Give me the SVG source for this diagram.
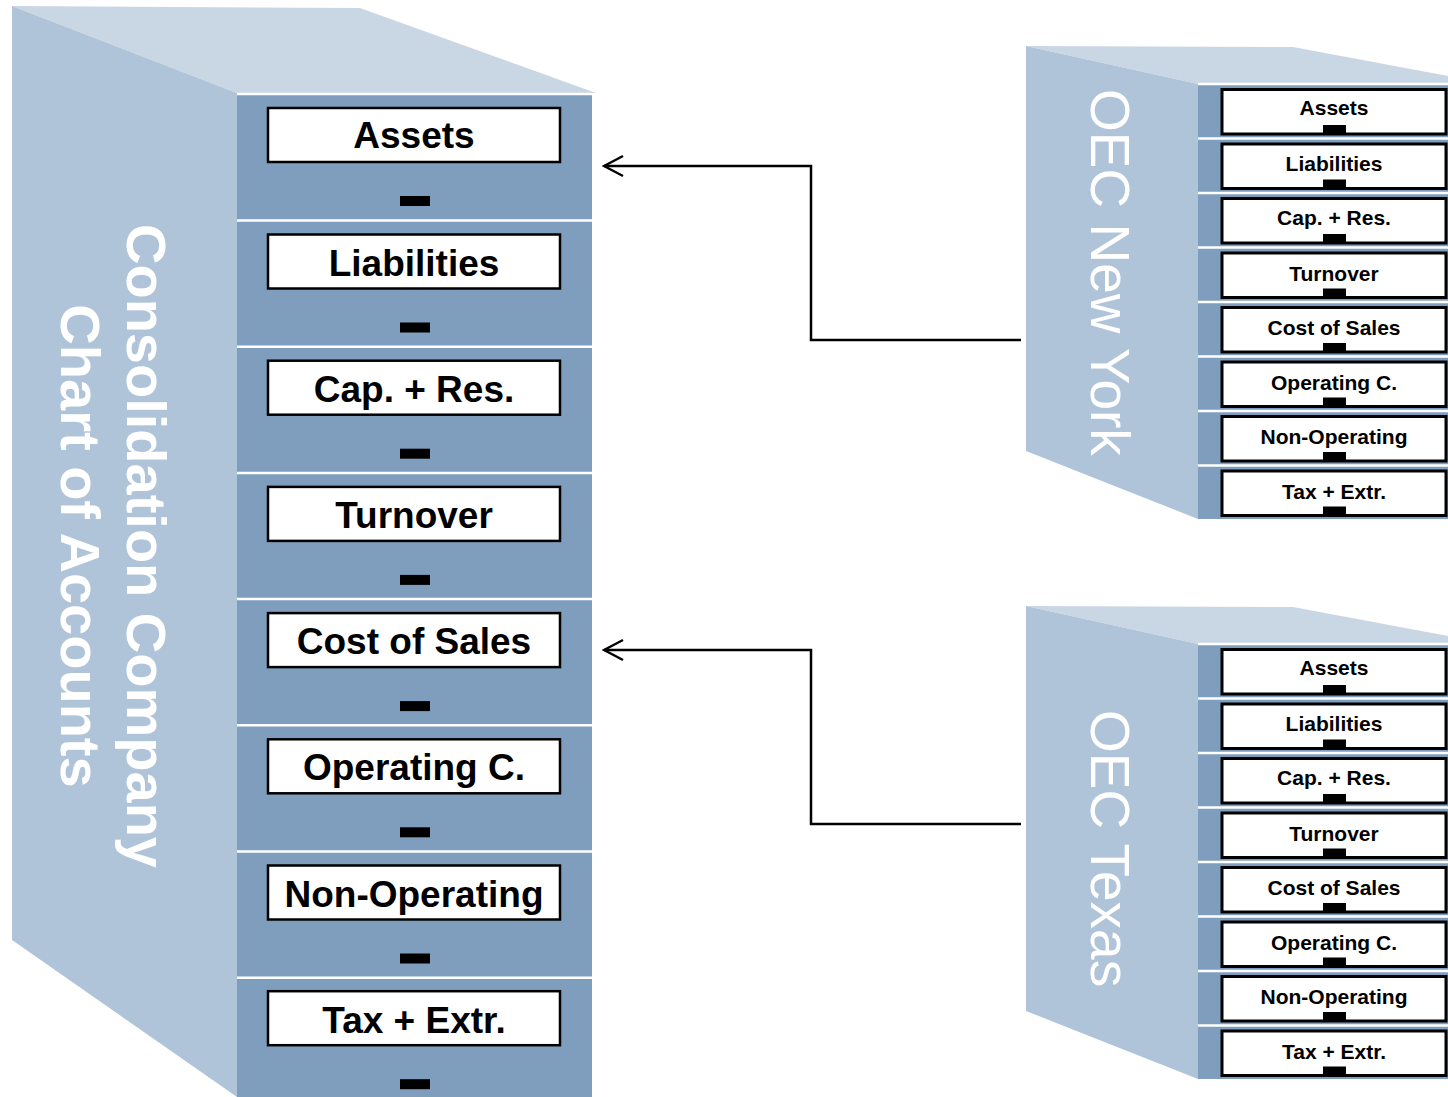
<svg xmlns="http://www.w3.org/2000/svg" width="1448" height="1097" viewBox="0 0 1448 1097">
  <defs>
    <style>
      .side { fill: #B0C4D9; }
      .top { fill: #C9D6E4; }
      .front { fill: #7F9EBD; }
      .sep { stroke: #FFFFFF; stroke-width: 2.5; }
      .box { fill: #FFFFFF; stroke: #000000; stroke-width: 2.5; }
      .sbox { fill: #FFFFFF; stroke: #000000; stroke-width: 3; }
      .handle { fill: #000000; }
      .lbl { font-family: "Liberation Sans", Arial, sans-serif; font-weight: bold; font-size: 37px; fill: #000000; text-anchor: middle; }
      .slbl { font-family: "Liberation Sans", Arial, sans-serif; font-weight: bold; font-size: 21px; fill: #000000; text-anchor: middle; }
      .title { font-family: "Liberation Sans", Arial, sans-serif; font-weight: bold; font-size: 56px; fill: #FFFFFF; text-anchor: middle; }
      .stitle { font-family: "Liberation Sans", Arial, sans-serif; font-size: 55px; fill: #FFFFFF; }
      .wire { fill: none; stroke: #000000; stroke-width: 2.5; }
    </style>
    <marker id="open" viewBox="0 0 24 24" markerWidth="24" markerHeight="24" refX="22" refY="12" orient="auto" markerUnits="userSpaceOnUse">
      <path d="M3,2 L22,12 L3,22" fill="none" stroke="#000000" stroke-width="2.5"/>
    </marker>
  </defs>

  <!-- Consolidation cabinet -->
  <g id="consolidation">
    <polygon class="top" points="12,6 360,8 596,93 237,93"/>
    <polygon class="side" points="12,6 237,93 237,1097 12,940"/>
    <rect class="front" x="237" y="93" width="355" height="1004"/>
    <text class="title" transform="translate(127,546) rotate(90)">Consolidation Company</text>
    <text class="title" transform="translate(61,546) rotate(90)">Chart of Accounts</text>

    <g transform="translate(0,94)">
      <line class="sep" x1="237" y1="0" x2="592" y2="0"/>
      <rect class="box" x="268" y="14" width="292" height="54"/>
      <text class="lbl" x="414" y="54">Assets</text>
      <rect class="handle" x="400" y="102" width="30" height="10"/>
    </g>
    <g transform="translate(0,220.5)">
      <line class="sep" x1="237" y1="0" x2="592" y2="0"/>
      <rect class="box" x="268" y="14" width="292" height="54"/>
      <text class="lbl" x="414" y="55">Liabilities</text>
      <rect class="handle" x="400" y="102" width="30" height="10"/>
    </g>
    <g transform="translate(0,346.7)">
      <line class="sep" x1="237" y1="0" x2="592" y2="0"/>
      <rect class="box" x="268" y="14" width="292" height="54"/>
      <text class="lbl" x="414" y="55">Cap. + Res.</text>
      <rect class="handle" x="400" y="102" width="30" height="10"/>
    </g>
    <g transform="translate(0,472.9)">
      <line class="sep" x1="237" y1="0" x2="592" y2="0"/>
      <rect class="box" x="268" y="14" width="292" height="54"/>
      <text class="lbl" x="414" y="55">Turnover</text>
      <rect class="handle" x="400" y="102" width="30" height="10"/>
    </g>
    <g transform="translate(0,599.1)">
      <line class="sep" x1="237" y1="0" x2="592" y2="0"/>
      <rect class="box" x="268" y="14" width="292" height="54"/>
      <text class="lbl" x="414" y="55">Cost of Sales</text>
      <rect class="handle" x="400" y="102" width="30" height="10"/>
    </g>
    <g transform="translate(0,725.3)">
      <line class="sep" x1="237" y1="0" x2="592" y2="0"/>
      <rect class="box" x="268" y="14" width="292" height="54"/>
      <text class="lbl" x="414" y="55">Operating C.</text>
      <rect class="handle" x="400" y="102" width="30" height="10"/>
    </g>
    <g transform="translate(0,851.5)">
      <line class="sep" x1="237" y1="0" x2="592" y2="0"/>
      <rect class="box" x="268" y="14" width="292" height="54"/>
      <text class="lbl" x="414" y="55">Non-Operating</text>
      <rect class="handle" x="400" y="102" width="30" height="10"/>
    </g>
    <g transform="translate(0,977.7)">
      <line class="sep" x1="237" y1="0" x2="592" y2="0"/>
      <rect class="box" x="268" y="13.5" width="292" height="54"/>
      <text class="lbl" x="414" y="55">Tax + Extr.</text>
      <rect class="handle" x="400" y="101.5" width="30" height="10"/>
    </g>
  </g>

  <!-- OEC New York cabinet -->
  <g id="oec-new-york">
    <polygon class="top" points="1026,46 1293,47 1448,76 1448,84 1198,84"/>
    <polygon class="side" points="1026,46 1198,84 1198,519 1026,451"/>
    <rect class="front" x="1198" y="84" width="250" height="435"/>
    <text class="stitle" transform="translate(1091,89) rotate(90)">OEC New York</text>

    <g transform="translate(0,84)">
      <line class="sep" x1="1198" y1="0" x2="1448" y2="0"/>
      <rect class="sbox" x="1222" y="5.5" width="224" height="44.5"/>
      <text class="slbl" x="1334" y="31">Assets</text>
      <rect class="handle" x="1323" y="41" width="23" height="10"/>
    </g>
    <g transform="translate(0,138.5)">
      <line class="sep" x1="1198" y1="0" x2="1448" y2="0"/>
      <rect class="sbox" x="1222" y="5.5" width="224" height="44.5"/>
      <text class="slbl" x="1334" y="32">Liabilities</text>
      <rect class="handle" x="1323" y="41" width="23" height="10"/>
    </g>
    <g transform="translate(0,193)">
      <line class="sep" x1="1198" y1="0" x2="1448" y2="0"/>
      <rect class="sbox" x="1222" y="5.5" width="224" height="44.5"/>
      <text class="slbl" x="1334" y="32">Cap. + Res.</text>
      <rect class="handle" x="1323" y="41" width="23" height="10"/>
    </g>
    <g transform="translate(0,247.5)">
      <line class="sep" x1="1198" y1="0" x2="1448" y2="0"/>
      <rect class="sbox" x="1222" y="5.5" width="224" height="44.5"/>
      <text class="slbl" x="1334" y="33">Turnover</text>
      <rect class="handle" x="1323" y="41" width="23" height="10"/>
    </g>
    <g transform="translate(0,302)">
      <line class="sep" x1="1198" y1="0" x2="1448" y2="0"/>
      <rect class="sbox" x="1222" y="5.5" width="224" height="44.5"/>
      <text class="slbl" x="1334" y="33">Cost of Sales</text>
      <rect class="handle" x="1323" y="41" width="23" height="10"/>
    </g>
    <g transform="translate(0,356.5)">
      <line class="sep" x1="1198" y1="0" x2="1448" y2="0"/>
      <rect class="sbox" x="1222" y="5.5" width="224" height="44.5"/>
      <text class="slbl" x="1334" y="33">Operating C.</text>
      <rect class="handle" x="1323" y="41" width="23" height="10"/>
    </g>
    <g transform="translate(0,411)">
      <line class="sep" x1="1198" y1="0" x2="1448" y2="0"/>
      <rect class="sbox" x="1222" y="5.5" width="224" height="44.5"/>
      <text class="slbl" x="1334" y="33">Non-Operating</text>
      <rect class="handle" x="1323" y="41" width="23" height="10"/>
    </g>
    <g transform="translate(0,465.5)">
      <line class="sep" x1="1198" y1="0" x2="1448" y2="0"/>
      <rect class="sbox" x="1222" y="5.5" width="224" height="44.5"/>
      <text class="slbl" x="1334" y="33">Tax + Extr.</text>
      <rect class="handle" x="1323" y="41" width="23" height="10"/>
    </g>
  </g>

  <!-- OEC Texas cabinet -->
  <g id="oec-texas">
    <polygon class="top" points="1026,606 1293,607 1448,636 1448,644 1198,644"/>
    <polygon class="side" points="1026,606 1198,644 1198,1079 1026,1011"/>
    <rect class="front" x="1198" y="644" width="250" height="435"/>
    <text class="stitle" transform="translate(1091,710) rotate(90)">OEC Texas</text>

    <g transform="translate(0,644)">
      <line class="sep" x1="1198" y1="0" x2="1448" y2="0"/>
      <rect class="sbox" x="1222" y="5.5" width="224" height="44.5"/>
      <text class="slbl" x="1334" y="31">Assets</text>
      <rect class="handle" x="1323" y="41" width="23" height="10"/>
    </g>
    <g transform="translate(0,698.5)">
      <line class="sep" x1="1198" y1="0" x2="1448" y2="0"/>
      <rect class="sbox" x="1222" y="5.5" width="224" height="44.5"/>
      <text class="slbl" x="1334" y="32">Liabilities</text>
      <rect class="handle" x="1323" y="41" width="23" height="10"/>
    </g>
    <g transform="translate(0,753)">
      <line class="sep" x1="1198" y1="0" x2="1448" y2="0"/>
      <rect class="sbox" x="1222" y="5.5" width="224" height="44.5"/>
      <text class="slbl" x="1334" y="32">Cap. + Res.</text>
      <rect class="handle" x="1323" y="41" width="23" height="10"/>
    </g>
    <g transform="translate(0,807.5)">
      <line class="sep" x1="1198" y1="0" x2="1448" y2="0"/>
      <rect class="sbox" x="1222" y="5.5" width="224" height="44.5"/>
      <text class="slbl" x="1334" y="33">Turnover</text>
      <rect class="handle" x="1323" y="41" width="23" height="10"/>
    </g>
    <g transform="translate(0,862)">
      <line class="sep" x1="1198" y1="0" x2="1448" y2="0"/>
      <rect class="sbox" x="1222" y="5.5" width="224" height="44.5"/>
      <text class="slbl" x="1334" y="33">Cost of Sales</text>
      <rect class="handle" x="1323" y="41" width="23" height="10"/>
    </g>
    <g transform="translate(0,916.5)">
      <line class="sep" x1="1198" y1="0" x2="1448" y2="0"/>
      <rect class="sbox" x="1222" y="5.5" width="224" height="44.5"/>
      <text class="slbl" x="1334" y="33">Operating C.</text>
      <rect class="handle" x="1323" y="41" width="23" height="10"/>
    </g>
    <g transform="translate(0,971)">
      <line class="sep" x1="1198" y1="0" x2="1448" y2="0"/>
      <rect class="sbox" x="1222" y="5.5" width="224" height="44.5"/>
      <text class="slbl" x="1334" y="33">Non-Operating</text>
      <rect class="handle" x="1323" y="41" width="23" height="10"/>
    </g>
    <g transform="translate(0,1025.5)">
      <line class="sep" x1="1198" y1="0" x2="1448" y2="0"/>
      <rect class="sbox" x="1222" y="5.5" width="224" height="44.5"/>
      <text class="slbl" x="1334" y="33">Tax + Extr.</text>
      <rect class="handle" x="1323" y="41" width="23" height="10"/>
    </g>
  </g>

  <!-- Connectors: subsidiary cabinets feed the consolidation drawers -->
  <g id="connectors">
    <path class="wire" d="M1021,340 H811 V166 H604" marker-end="url(#open)"/>
    <path class="wire" d="M1021,824 H811 V650 H604" marker-end="url(#open)"/>
  </g>
</svg>
